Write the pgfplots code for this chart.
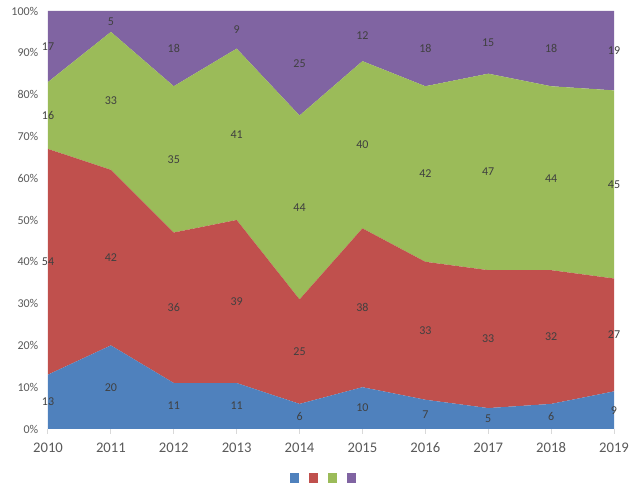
\documentclass[border=0pt]{standalone}
\usepackage{pgfplots}
\pgfplotsset{compat=1.18}
\usepackage{fontspec}
\setmainfont{Carlito}
\definecolor{cblue}{HTML}{4F81BD}
\definecolor{cred}{HTML}{C0504D}
\definecolor{cgreen}{HTML}{9BBB59}
\definecolor{cpurple}{HTML}{8064A2}
\definecolor{ticktext}{HTML}{595959}
\definecolor{labtext}{HTML}{404040}
\definecolor{axline}{HTML}{D9D9D9}
\begin{document}
\begin{tikzpicture}
\pgfplotsset{
  base/.style={
    scale only axis, width=424.5pt, height=313.5pt,
    xmin=2010, xmax=2019, ymin=0, ymax=100,
    /pgf/number format/assume math mode=true,
  }
}
\begin{axis}[base, name=main,
  stack plots=y,
  axis x line*=bottom, axis y line*=left,
  y axis line style={draw=none},
  x axis line style={draw=axline, line width=0.75pt},
  xtick={2010,2011,...,2019},
  ytick={0,10,...,100},
  tick align=outside, major tick length=3.75pt,
  xtick style={draw=axline, line width=0.75pt},
  ytick style={draw=none},
  xticklabel style={/pgf/number format/1000 sep={}, font=\fontsize{11}{13}\selectfont, text=ticktext, yshift=-3pt},
  yticklabel={\pgfmathprintnumber{\tick}\%},
  yticklabel style={font=\fontsize{9}{11}\selectfont, text=ticktext},
  legend columns=4,
  legend style={at={(0.487,-0.1172)}, anchor=center, draw=none, fill=none,
    inner sep=0pt, nodes={inner sep=0pt},
    /tikz/every even column/.append style={column sep=6.5pt}},
  legend image code/.code={\fill[#1] (0pt,-3.4pt) rectangle (6.75pt,3.4pt);},
]
\addplot[fill=cblue, draw=none] coordinates {
 (2010,13) (2011,20) (2012,11) (2013,11) (2014,6) (2015,10) (2016,7) (2017,5) (2018,6) (2019,9)} \closedcycle;
\addlegendentry{\relax}
\addplot[fill=cred, draw=none] coordinates {
 (2010,54) (2011,42) (2012,36) (2013,39) (2014,25) (2015,38) (2016,33) (2017,33) (2018,32) (2019,27)} \closedcycle;
\addlegendentry{\relax}
\addplot[fill=cgreen, draw=none] coordinates {
 (2010,16) (2011,33) (2012,35) (2013,41) (2014,44) (2015,40) (2016,42) (2017,47) (2018,44) (2019,45)} \closedcycle;
\addlegendentry{\relax}
\addplot[fill=cpurple, draw=none] coordinates {
 (2010,17) (2011,5) (2012,18) (2013,9) (2014,25) (2015,12) (2016,18) (2017,15) (2018,18) (2019,19)} \closedcycle;
\addlegendentry{\relax}
\end{axis}
\begin{axis}[base, hide axis]
\addplot[only marks, mark=*, mark size=0pt, mark options={draw=none, fill=none},
  nodes near coords, point meta=explicit symbolic,
  every node near coord/.append style={anchor=center, inner sep=0pt, font=\fontsize{9}{11}\selectfont, text=labtext}]
  table[meta=l] {
x y l
2010 6.5 13
2011 10 20
2012 5.5 11
2013 5.5 11
2014 3 6
2015 5 10
2016 3.5 7
2017 2.5 5
2018 3 6
2019 4.5 9
2010 40 54
2011 41 42
2012 29 36
2013 30.5 39
2014 18.5 25
2015 29 38
2016 23.5 33
2017 21.5 33
2018 22 32
2019 22.5 27
2010 75 16
2011 78.5 33
2012 64.5 35
2013 70.5 41
2014 53 44
2015 68 40
2016 61 42
2017 61.5 47
2018 60 44
2019 58.5 45
2010 91.5 17
2011 97.5 5
2012 91 18
2013 95.5 9
2014 87.5 25
2015 94 12
2016 91 18
2017 92.5 15
2018 91 18
2019 90.5 19
};
\end{axis}
\pgfresetboundingbox
\path[use as bounding box] ([shift={(-36pt,-43.5pt)}]main.south west) rectangle ([shift={(12pt,8.25pt)}]main.north east);
\end{tikzpicture}
\end{document}
